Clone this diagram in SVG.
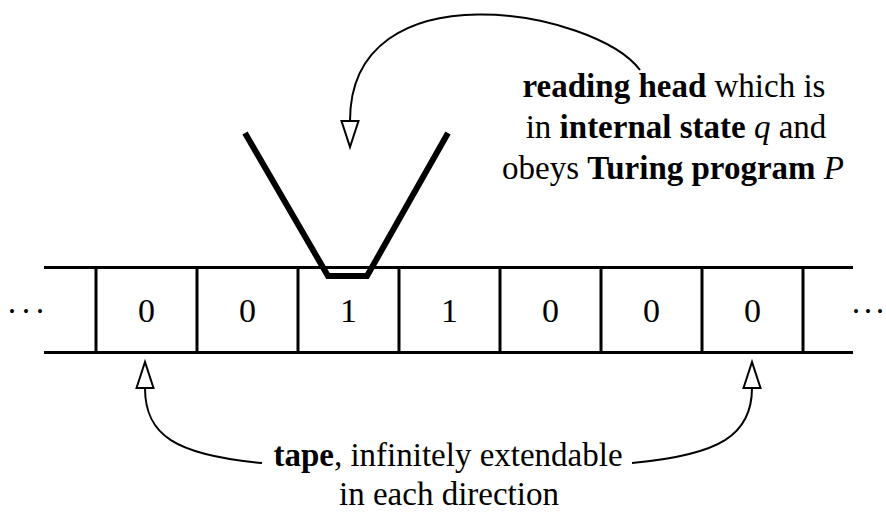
<svg xmlns="http://www.w3.org/2000/svg" width="886" height="513" viewBox="0 0 886 513">
  <style>
    .txt { font-family: "Liberation Serif", "Times New Roman", serif; font-size: 33px; fill: #000; }
    .b { font-weight: bold; }
    .it { font-style: italic; }
    .tape { stroke: #000; stroke-width: 3; fill: none; }
    .conn { stroke: #000; stroke-width: 2; fill: none; marker-end: url(#open); }
  </style>
  <defs>
    <marker id="open" markerUnits="userSpaceOnUse" markerWidth="32" markerHeight="24" refX="1" refY="9" orient="auto" overflow="visible">
      <path d="M1,0.5 L27,9 L1,17.5 Z" fill="#fff" stroke="#000" stroke-width="2" stroke-linejoin="miter"/>
    </marker>
  </defs>
  <rect width="886" height="513" fill="#fff"/>

  <!-- tape: two rails and cell dividers -->
  <g id="tape">
    <path class="tape" d="M44,267.5 H853 M44,352.5 H853"/>
    <path class="tape" d="M96,267 V353 M197,267 V353 M298,267 V353 M399,267 V353 M500,267 V353 M601,267 V353 M702,267 V353 M803,267 V353"/>
    <text class="txt" x="12 26 40" y="322" text-anchor="middle">···</text>
    <text class="txt" x="856 868 880" y="322" text-anchor="middle">···</text>
  </g>

  <!-- cell contents -->
  <g id="cells" class="txt" text-anchor="middle" style="font-size:34px">
    <text x="146.5" y="322">0</text>
    <text x="247.5" y="322">0</text>
    <text x="348.5" y="322">1</text>
    <text x="449.5" y="322">1</text>
    <text x="550.5" y="322">0</text>
    <text x="651.5" y="322">0</text>
    <text x="752.5" y="322">0</text>
  </g>

  <!-- reading head -->
  <g id="head">
    <polyline points="245,133 328,276 367,276 448,133" fill="none" stroke="#000" stroke-width="6" stroke-linejoin="miter"/>
  </g>

  <!-- head label -->
  <g id="head-label" class="txt" text-anchor="middle">
    <text x="674" y="97"><tspan class="b">reading head</tspan> which is</text>
    <text x="676" y="138">in <tspan class="b">internal state</tspan> <tspan class="it">q</tspan> and</text>
    <text x="673" y="179">obeys <tspan class="b">Turing program</tspan> <tspan class="it">P</tspan></text>
  </g>

  <!-- tape label -->
  <g id="tape-label" class="txt" text-anchor="middle">
    <text x="448" y="466"><tspan class="b">tape</tspan>, infinitely extendable</text>
    <text x="449" y="505">in each direction</text>
  </g>

  <!-- connectors -->
  <g id="connectors">
    <path class="conn" d="M640,70 C595,10 350,-35 350,121"/>
    <path class="conn" d="M262,463 C175,455 145,435 145,388"/>
    <path class="conn" d="M632,463 C720,455 752,435 752,388"/>
  </g>
</svg>
